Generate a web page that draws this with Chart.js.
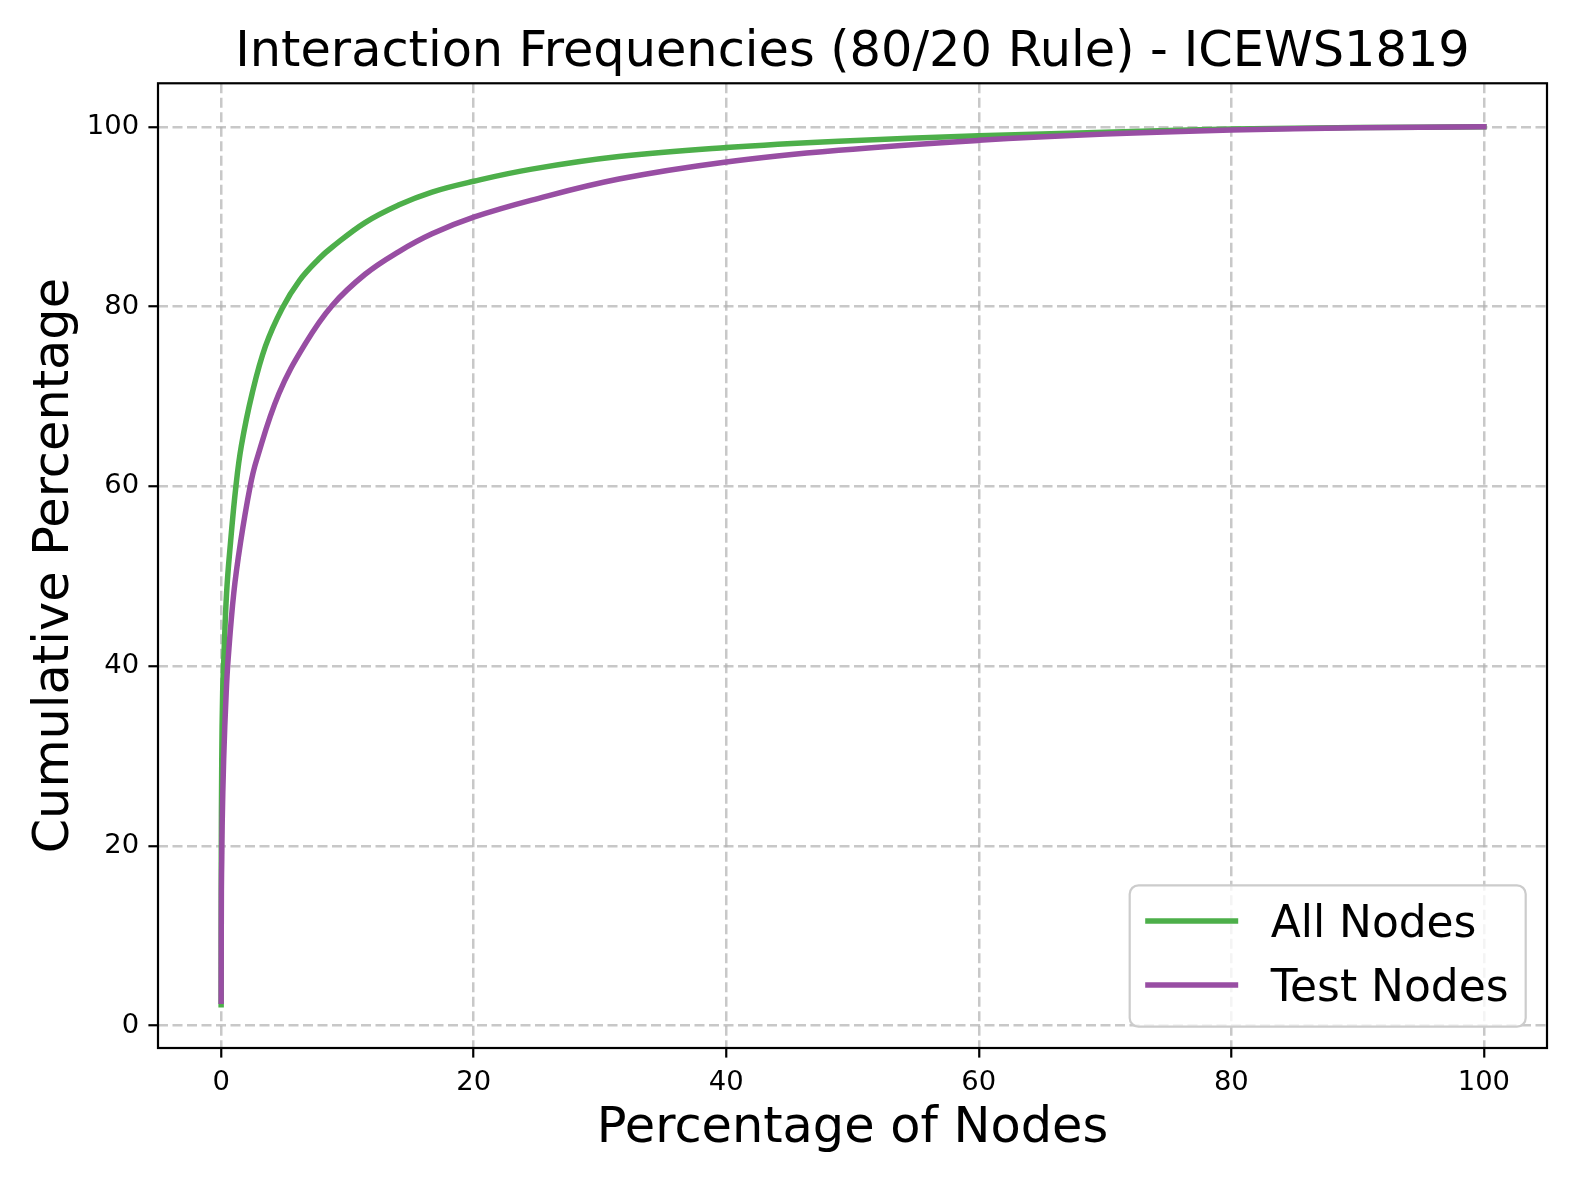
<!DOCTYPE html>
<html>
<head>
<meta charset="utf-8">
<title>Interaction Frequencies (80/20 Rule) - ICEWS1819</title>
<script src="https://cdn.jsdelivr.net/npm/chart.js@4.4.1/dist/chart.umd.min.js"></script>
<style>
  html, body { margin: 0; padding: 0; background: #fff; }
  #wrap { width: 1578px; height: 1183px; position: relative; }
</style>
</head>
<body>
<div id="wrap"><canvas id="chart"></canvas></div>
<script>
// points: x = % of nodes, y = cumulative %
const allNodesX = [0, 0.01, 0.05, 0.12, 0.21, 0.43, 0.74, 1.17, 1.6, 2.45, 3.51, 4.83, 6.2, 7.73, 8.78, 11.4, 14.05, 16.7, 20, 24.6, 31.5, 40, 48.9, 60, 70, 80, 90, 100];
const allNodesY = [2.3, 18, 29.6, 37, 40.7, 48.1, 53.7, 60, 64.5, 70.3, 75.6, 79.8, 82.9, 85.3, 86.6, 89.35, 91.3, 92.75, 93.95, 95.3, 96.7, 97.7, 98.4, 99.0, 99.4, 99.75, 99.92, 100];

const testNodesX = [0, 0.02, 0.05, 0.08, 0.2, 0.4, 0.55, 1.0, 1.53, 2.3, 2.8, 4.57, 6.68, 8.78, 11.4, 14.05, 16.7, 20, 24.6, 31.5, 40, 48.9, 60, 70, 80, 90, 100];
const testNodesY = [2.7, 15, 18.6, 22.2, 29.6, 37, 40.7, 48.1, 53.7, 60, 62.9, 70.3, 75.9, 80.1, 83.6, 86.1, 88.1, 89.95, 91.85, 94.2, 96.1, 97.4, 98.5, 99.2, 99.65, 99.9, 100];

const seriesLabels = ['All Nodes', 'Test Nodes'];
const seriesColors = ['#4daf4a', '#984ea3'];
const xTicks = [0, 20, 40, 60, 80, 100];
const yTicks = [0, 20, 40, 60, 80, 100];

const FONT = 'DejaVu Sans';

function toPoints(xs, ys) {
  return xs.map((x, i) => ({ x: x, y: ys[i] }));
}

// matplotlib draws a box on all four sides
const framePlugin = {
  id: 'frame',
  afterDatasetsDraw(chart) {
    const a = chart.chartArea;
    const ctx = chart.ctx;
    ctx.save();
    ctx.strokeStyle = '#000';
    ctx.lineWidth = 2.2;
    ctx.strokeRect(a.left, a.top, a.right - a.left, a.bottom - a.top);
    ctx.restore();
  }
};

// legend box in the lower right corner of the plot
const boxLegend = {
  id: 'boxLegend',
  afterDraw(chart) {
    const a = chart.chartArea;
    const ctx = chart.ctx;
    const w = 396, h = 141.4, r = 8.8;
    const right = a.right - 21.3, bottom = a.bottom - 21.3;
    const left = right - w, top = bottom - h;

    ctx.save();
    ctx.beginPath();
    ctx.moveTo(left + r, top);
    ctx.arcTo(right, top, right, bottom, r);
    ctx.arcTo(right, bottom, left, bottom, r);
    ctx.arcTo(left, bottom, left, top, r);
    ctx.arcTo(left, top, right, top, r);
    ctx.closePath();
    ctx.fillStyle = 'rgba(255,255,255,0.8)';
    ctx.fill();
    ctx.strokeStyle = '#cccccc';
    ctx.lineWidth = 2.2;
    ctx.stroke();

    ctx.font = '43.9px "' + FONT + '"';
    ctx.textBaseline = 'alphabetic';
    ctx.textAlign = 'left';
    chart.data.datasets.forEach((ds, i) => {
      const ly = top + 35.7 + i * 64;
      ctx.strokeStyle = ds.borderColor;
      ctx.lineWidth = 5.5;
      ctx.lineCap = 'butt';
      ctx.beginPath();
      ctx.moveTo(left + 15.5, ly);
      ctx.lineTo(left + 108.5, ly);
      ctx.stroke();
      ctx.fillStyle = '#000';
      ctx.fillText(ds.label, left + 141, ly + 16);
    });
    ctx.restore();
  }
};

const gridOpts = {
  color: 'rgba(176,176,176,0.7)',
  lineWidth: 2.5,
  drawTicks: true,
  tickLength: 9.6,
  tickColor: '#000',
  tickWidth: 2.2
};

new Chart(document.getElementById('chart'), {
  type: 'line',
  data: {
    datasets: [
      {
        label: seriesLabels[0],
        data: toPoints(allNodesX, allNodesY),
        borderColor: seriesColors[0],
        backgroundColor: seriesColors[0],
        borderWidth: 5.5,
        pointRadius: 0,
        tension: 0.4,
        borderCapStyle: 'square',
        borderJoinStyle: 'round',
        fill: false,
        order: 2
      },
      {
        label: seriesLabels[1],
        data: toPoints(testNodesX, testNodesY),
        borderColor: seriesColors[1],
        backgroundColor: seriesColors[1],
        borderWidth: 5.5,
        pointRadius: 0,
        tension: 0.4,
        borderCapStyle: 'square',
        borderJoinStyle: 'round',
        fill: false,
        order: 1
      }
    ]
  },
  options: {
    responsive: true,
    maintainAspectRatio: false,
    animation: false,
    layout: { padding: { left: 0, right: 31, top: 0, bottom: 0 } },
    plugins: {
      legend: { display: false },
      tooltip: { enabled: false },
      title: {
        display: true,
        text: 'Interaction Frequencies (80/20 Rule) - ICEWS1819',
        fullSize: false,
        color: '#000',
        font: { family: FONT, size: 49.4, weight: 'normal' },
        padding: { top: 24, bottom: 0 }
      }
    },
    scales: {
      x: {
        type: 'linear',
        min: -5,
        max: 105,
        afterBuildTicks: s => { s.ticks = xTicks.map(v => ({ value: v })); },
        afterFit: s => { s.height = 135; },
        ticks: {
          color: '#000',
          font: { family: FONT, size: 27.4 },
          padding: 9.3,
          maxRotation: 0,
          autoSkip: false
        },
        grid: gridOpts,
        border: { display: false, dash: [10, 4.5] },
        title: {
          display: true,
          text: 'Percentage of Nodes',
          color: '#000',
          font: { family: FONT, size: 49.4 },
          padding: { top: 0, bottom: 24.5 }
        }
      },
      y: {
        type: 'linear',
        min: -2.5,
        max: 104.85,
        afterBuildTicks: s => { s.ticks = yTicks.map(v => ({ value: v })); },
        afterFit: s => { s.width = 158; },
        ticks: {
          color: '#000',
          font: { family: FONT, size: 27.4 },
          padding: 9.3,
          autoSkip: false
        },
        grid: gridOpts,
        border: { display: false, dash: [10, 4.5] },
        title: {
          display: true,
          text: 'Cumulative Percentage',
          color: '#000',
          font: { family: FONT, size: 49.4 },
          padding: { top: 25.5, bottom: 0 }
        }
      }
    }
  },
  plugins: [framePlugin, boxLegend]
});
</script>
</body>
</html>
